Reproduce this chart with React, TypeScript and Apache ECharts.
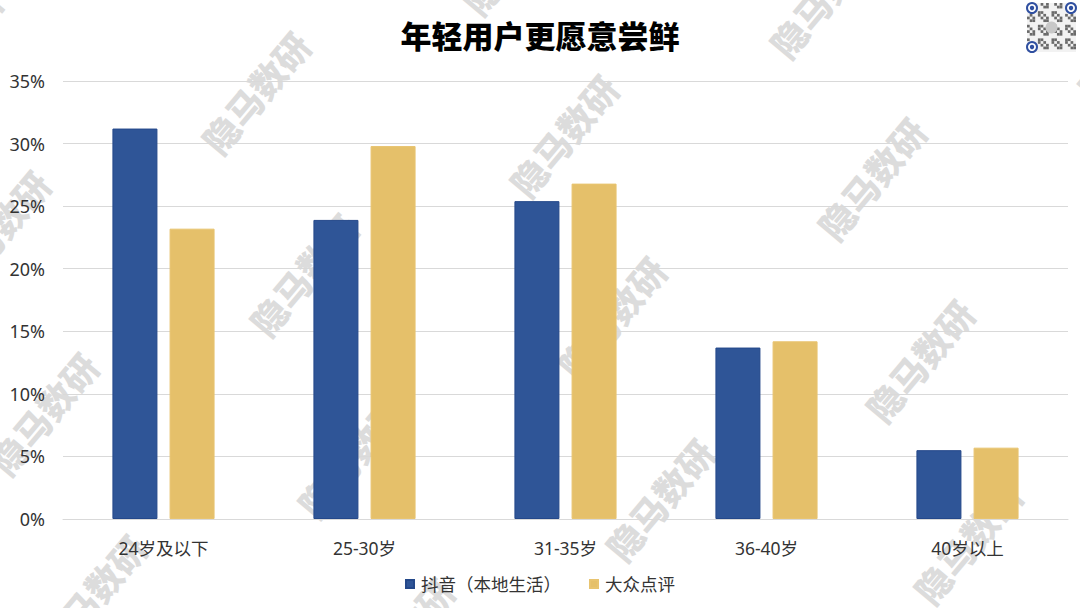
import React, { useEffect, useRef } from "react";
import * as echarts from "echarts";

const categories = ["24岁及以下", "25-30岁", "31-35岁", "36-40岁", "40岁以上"];
const seriesNames = ["抖音（本地生活）", "大众点评"];
const douyinValues = [31.2, 23.9, 25.4, 13.7, 5.5];
const dianpingValues = [23.2, 29.8, 26.8, 14.2, 5.7];
const titleText = "年轻用户更愿意尝鲜";
const watermarkText = "隐马数研";

const FONT = "'Noto Sans', 'Noto Sans CJK SC', sans-serif";

function buildWatermarks() {
  const els: any[] = [];
  const base = [255, 92];
  const u = [308, 43];
  const v = [48, 182];
  for (let i = -1; i <= 3; i++) {
    for (let j = -1; j <= 3; j++) {
      const x = base[0] + i * u[0] + j * v[0];
      const y = base[1] + i * u[1] + j * v[1];
      if (x < -120 || x > 1200 || y < -120 || y > 730) continue;
      els.push({
        type: "text",
        x,
        y,
        rotation: (50 * Math.PI) / 180,
        z: 0,
        silent: true,
        style: {
          text: watermarkText,
          fill: "#dcdcdc",
          font: "900 36px 'Noto Sans CJK SC', sans-serif",
          textAlign: "center",
          textVerticalAlign: "middle",
        },
      });
    }
  }
  return els;
}

function buildQr() {
  const els: any[] = [];
  const x0 = 1027;
  const y0 = 3;
  const size = 49;
  const n = 18;
  const cell = size / n;
  els.push({
    type: "rect",
    shape: { x: x0, y: y0, width: size, height: size },
    style: { fill: "#f2f2f2" },
    z: 9,
    silent: true,
  });
  for (let r = 0; r < n; r++) {
    for (let c = 0; c < n; c++) {
      const inFinder =
        (r < 4 && c < 4) || (r < 4 && c >= n - 4) || (r >= n - 4 && c < 4);
      if (inFinder) continue;
      const on = ((r * 7 + c * 13 + r * c) % 5) < 2;
      if (!on) continue;
      els.push({
        type: "rect",
        shape: { x: x0 + c * cell, y: y0 + r * cell, width: cell, height: cell },
        style: { fill: "#6a6a6a" },
        z: 10,
        silent: true,
      });
    }
  }
  els.push({
    type: "circle",
    shape: { cx: x0 + size / 2, cy: y0 + size / 2, r: 6 },
    style: { fill: "#c8c8c8" },
    z: 11,
    silent: true,
  });
  const finders = [
    [x0 + 5, y0 + 5],
    [x0 + size - 5, y0 + 5],
    [x0 + 5, y0 + size - 5],
  ];
  finders.forEach(([cx, cy]) => {
    els.push({
      type: "circle",
      shape: { cx, cy, r: 5 },
      style: { fill: "#fff", stroke: "#2f4fa0", lineWidth: 2 },
      z: 11,
      silent: true,
    });
    els.push({
      type: "circle",
      shape: { cx, cy, r: 2.2 },
      style: { fill: "#2f4fa0" },
      z: 12,
      silent: true,
    });
  });
  return els;
}

export default function App() {
  const ref = useRef<HTMLDivElement>(null);
  useEffect(() => {
    if (!ref.current) return;
    const chart = echarts.init(ref.current, undefined, { renderer: "svg" });
    chart.setOption({
      animation: false,
      backgroundColor: "#ffffff",
      title: {
        text: titleText,
        left: "center",
        top: 14,
        textStyle: {
          fontFamily: "'Noto Sans CJK SC', sans-serif",
          fontWeight: 900,
          fontSize: 31,
          color: "#000",
        },
      },
      legend: {
        top: 569,
        left: "center",
        itemWidth: 8,
        itemHeight: 8,
        itemGap: 28,
        icon: "rect",
        textStyle: { fontFamily: FONT, fontSize: 17.5, lineHeight: 20, color: "#333", padding: [0, 0, 0, 2] },
        data: seriesNames,
      },
      grid: { left: 63, right: 12, top: 81, bottom: 89, containLabel: false },
      xAxis: {
        type: "category",
        data: categories,
        axisLine: { lineStyle: { color: "#d9d9d9", width: 1 } },
        axisTick: { show: false },
        axisLabel: { fontFamily: FONT, fontSize: 17.5, color: "#333", margin: 20 },
      },
      yAxis: {
        type: "value",
        min: 0,
        max: 35,
        interval: 5,
        axisLine: { show: false },
        axisTick: { show: false },
        splitLine: { lineStyle: { color: "#d9d9d9", width: 1 } },
        axisLabel: { formatter: "{value}%", fontFamily: FONT, fontSize: 18, color: "#333", margin: 18 },
      },
      graphic: [...buildWatermarks(), ...buildQr()],
      series: [
        {
          name: seriesNames[0],
          type: "bar",
          data: douyinValues,
          barWidth: 45,
          barGap: "27%",
          z: 5,
          itemStyle: { color: "#2f5597", borderColor: "#24488a", borderWidth: 1 },
        },
        {
          name: seriesNames[1],
          type: "bar",
          data: dianpingValues,
          barWidth: 45,
          barGap: "27%",
          z: 5,
          itemStyle: { color: "#e5c06a", borderColor: "#e8c470", borderWidth: 1 },
        },
      ],
    });
    return () => chart.dispose();
  }, []);
  return <div ref={ref} style={{ width: 1080, height: 608, position: "absolute", left: 0, top: 0 }} />;
}
